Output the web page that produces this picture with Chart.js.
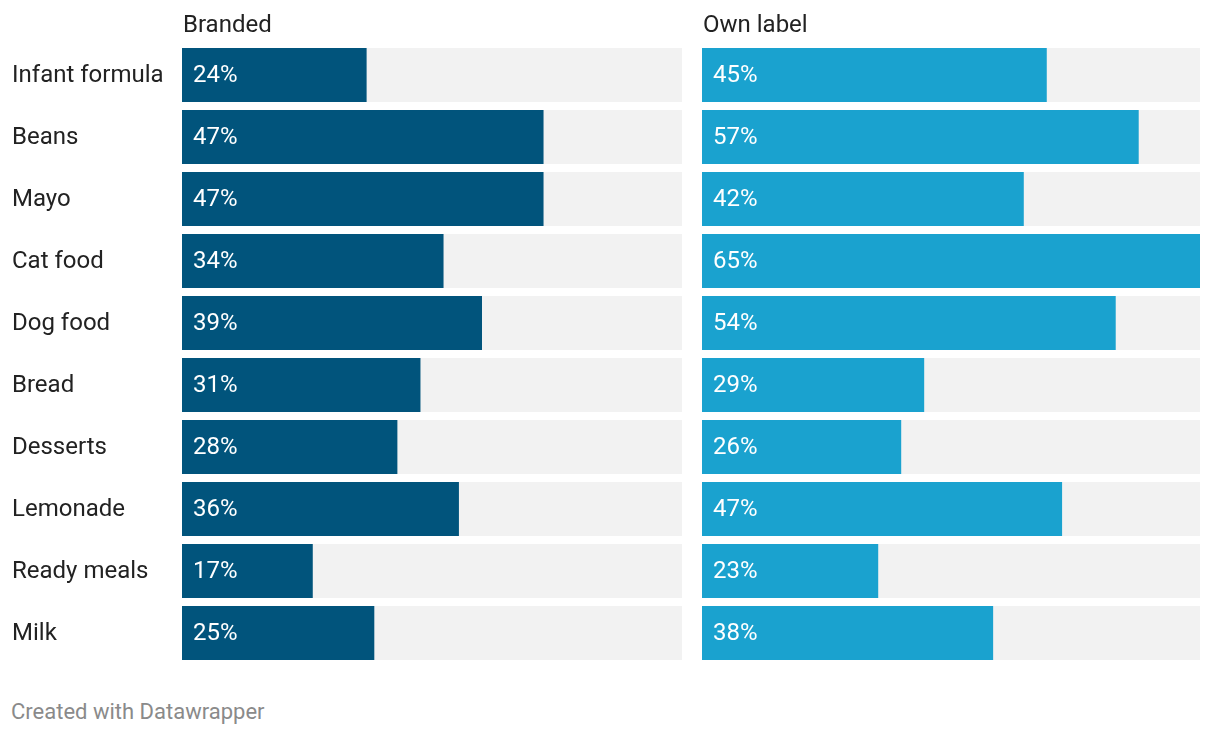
<!DOCTYPE html>
<html>
<head>
<meta charset="utf-8">
<script src="https://cdn.jsdelivr.net/npm/chart.js@4/dist/chart.umd.min.js"></script>
<style>
  body { margin: 0; background: #fff; font-family: Roboto, sans-serif; }
  #wrap { position: relative; width: 1220px; height: 736px; }
  #left { position: absolute; left: 0; top: 0; }
  #right { position: absolute; left: 692px; top: 0; }
  #credit { position: absolute; left: 11px; top: 701px; font-size: 22px; line-height: 22px; color: #8a8a8a; }
</style>
</head>
<body>
<div id="wrap">
  <canvas id="left" width="692" height="680"></canvas>
  <canvas id="right" width="518" height="680"></canvas>
  <div id="credit">Created with Datawrapper</div>
</div>
<script>
const categories = ['Infant formula', 'Beans', 'Mayo', 'Cat food', 'Dog food', 'Bread', 'Desserts', 'Lemonade', 'Ready meals', 'Milk'];
const branded = [24, 47, 47, 34, 39, 31, 28, 36, 17, 25];
const ownLabel = [45, 57, 42, 65, 54, 29, 26, 47, 23, 38];
const maxValue = 65;

// header above the bars + white value labels inside bars
const labelPlugin = {
    id: 'labels',
    afterDatasetsDraw(chart, args, opts) {
        const ctx = chart.ctx;
        const area = chart.chartArea;
        ctx.save();
        ctx.font = '24px Roboto';
        ctx.fillStyle = '#222';
        ctx.textAlign = 'left';
        ctx.textBaseline = 'alphabetic';
        ctx.fillText(opts.header, area.left + 1, 32);

        const meta = chart.getDatasetMeta(1);
        ctx.fillStyle = '#fff';
        ctx.textBaseline = 'middle';
        meta.data.forEach(function (bar, i) {
            const v = chart.data.datasets[1].data[i];
            ctx.fillText(v + '%', bar.base + 11, bar.y + 1);
        });
        ctx.restore();
    }
};

function makeChart(id, values, color, header, showLabels) {
    const ctx = document.getElementById(id).getContext('2d');
    return new Chart(ctx, {
        type: 'bar',
        data: {
            labels: categories,
            datasets: [
                {
                    data: categories.map(function () { return maxValue; }),
                    backgroundColor: '#f2f2f2',
                    grouped: false,
                    order: 2
                },
                {
                    data: values,
                    backgroundColor: color,
                    grouped: false,
                    order: 1
                }
            ]
        },
        options: {
            indexAxis: 'y',
            responsive: false,
            animation: false,
            events: [],
            datasets: {
                bar: { categoryPercentage: 1, barPercentage: 54 / 62, borderWidth: 0 }
            },
            layout: {
                padding: { left: showLabels ? 12 : 10, right: 10, top: 44, bottom: 16 }
            },
            scales: {
                x: {
                    display: false,
                    min: 0,
                    max: maxValue
                },
                y: {
                    display: showLabels,
                    grid: { display: false, drawTicks: false },
                    border: { display: false },
                    afterFit: function (scale) { if (showLabels) scale.width = 170; },
                    ticks: {
                        crossAlign: 'far',
                        color: '#222',
                        padding: 0,
                        labelOffset: 1,
                        font: { family: 'Roboto', size: 24 }
                    }
                }
            },
            plugins: {
                legend: { display: false },
                tooltip: { enabled: false },
                labels: { header: header }
            }
        },
        plugins: [labelPlugin]
    });
}

window.onload = function () {
    makeChart('left', branded, '#01547c', 'Branded', true);
    makeChart('right', ownLabel, '#1aa2cf', 'Own label', false);
};
</script>
</body>
</html>
